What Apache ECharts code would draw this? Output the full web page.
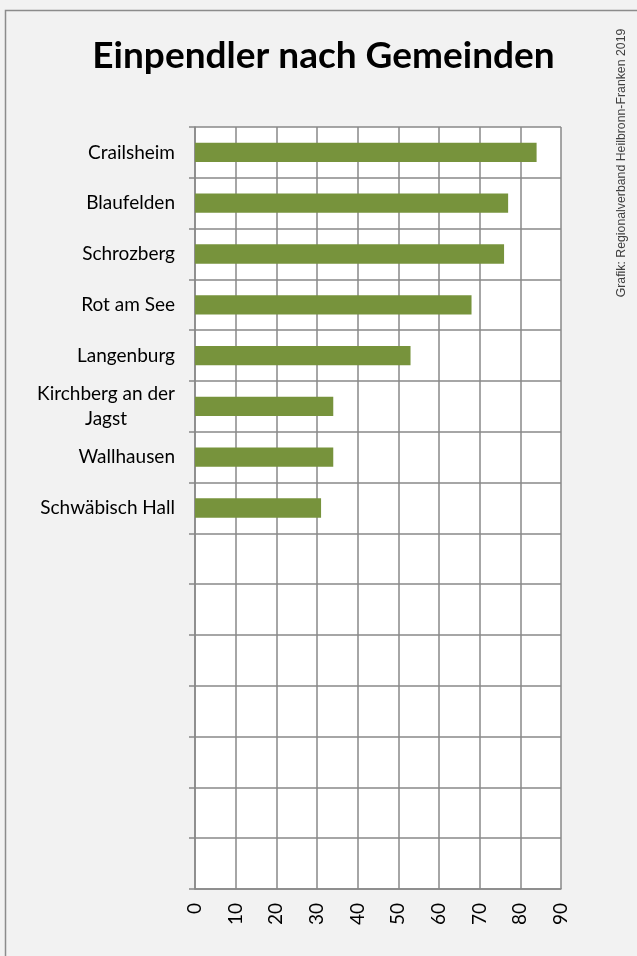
<!DOCTYPE html>
<html>
<head>
<meta charset="utf-8">
<script src="https://cdn.jsdelivr.net/npm/echarts@6/dist/echarts.min.js"></script>
<style>
html,body{margin:0;padding:0;background:#f2f2f2;}
#chart{width:637px;height:956px;}
</style>
</head>
<body>
<div id="chart"></div>
<script>
const titleText = 'Einpendler nach Gemeinden';
const sourceText = 'Grafik: Regionalverband Heilbronn-Franken 2019';
const categories = ['Crailsheim','Blaufelden','Schrozberg','Rot am See','Langenburg','Kirchberg an der Jagst','Wallhausen','Schwäbisch Hall','','','','','','',''];
const values = [84,77,76,68,53,34,34,31,null,null,null,null,null,null,null];
const xTicks = [0,10,20,30,40,50,60,70,80,90];

const chart = echarts.init(document.getElementById('chart'));
chart.setOption({
  backgroundColor:'#f2f2f2',
  animation:false,
  graphic:[
    {type:'rect',shape:{x:5.5,y:10.5,width:700,height:1000},style:{fill:'none',stroke:'#8c8c8c',lineWidth:1.5},silent:true},
    {type:'text',x:323.5,y:56,style:{text:titleText,font:'bold 37px Lato',fill:'#000',align:'center',verticalAlign:'middle'}},
    {type:'text',x:621.5,y:163,rotation:Math.PI/2,style:{text:sourceText,font:'12.3px "Liberation Sans"',fill:'#404040',align:'center',verticalAlign:'middle'}}
  ],
  grid:{left:195,right:76,top:127,bottom:67,show:true,backgroundColor:'#ffffff',borderWidth:0},
  xAxis:{
    type:'value',min:xTicks[0],max:xTicks[xTicks.length-1],interval:10,
    axisLine:{show:true,lineStyle:{color:'#888',width:1.5}},
    axisTick:{show:false},
    splitLine:{show:true,lineStyle:{color:'#888',width:1.5}},
    axisLabel:{rotate:90,margin:14,fontFamily:'Lato',fontSize:19,color:'#000'}
  },
  yAxis:{
    type:'category',inverse:true,data:categories,
    axisLine:{show:true,lineStyle:{color:'#888',width:1.5}},
    axisTick:{show:true,length:6,lineStyle:{color:'#888',width:1.5}},
    splitLine:{show:true,lineStyle:{color:'#888',width:1.5}},
    axisLabel:{
      margin:20,fontFamily:'Lato',fontSize:19,color:'#000',lineHeight:25,
      formatter:function(v){
        if(v.length>16){
          const i=v.lastIndexOf(' ');
          return '{c|'+v.slice(0,i)+'}\n{c|'+v.slice(i+1)+'}';
        }
        return v;
      },
      rich:{c:{align:'center',fontFamily:'Lato',fontSize:19,color:'#000',lineHeight:25}}
    }
  },
  series:[{type:'bar',data:values,barWidth:'38%',itemStyle:{color:'#77933c'}}]
});
</script>
</body>
</html>
